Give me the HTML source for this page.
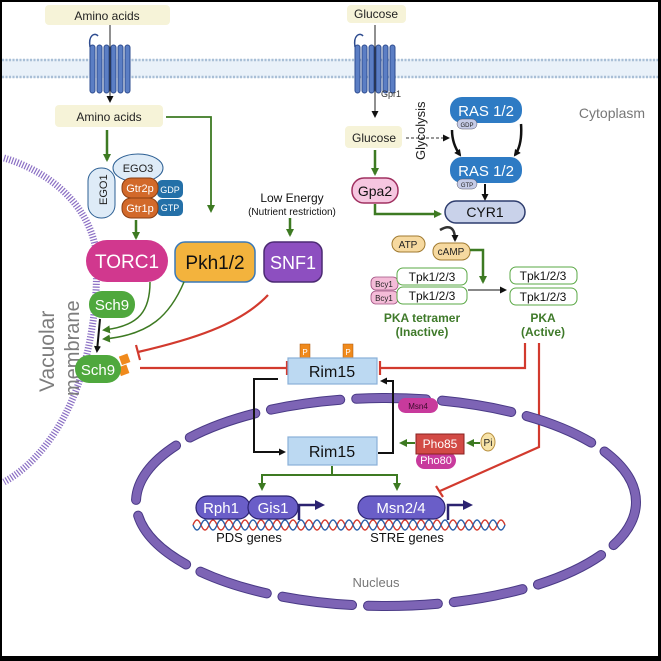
<!DOCTYPE html>
<html><head><meta charset="utf-8"><style>
html,body{margin:0;padding:0;background:#000;}
svg{display:block;font-family:"Liberation Sans",sans-serif;}
</style></head><body>
<svg width="661" height="661" viewBox="0 0 661 661" xmlns="http://www.w3.org/2000/svg">
<defs>
<marker id="ag" markerWidth="8" markerHeight="8" refX="6" refY="4" orient="auto" markerUnits="userSpaceOnUse"><path d="M0,0 L8,4 L0,8 z" fill="#3d7a22"/></marker>
<marker id="ab" markerWidth="7" markerHeight="7" refX="5" refY="3.5" orient="auto" markerUnits="userSpaceOnUse"><path d="M0,0 L7,3.5 L0,7 z" fill="#111"/></marker>
<marker id="an" markerWidth="10" markerHeight="10" refX="3" refY="5" orient="auto" markerUnits="userSpaceOnUse"><path d="M0,0 L10,5 L0,10 z" fill="#2b2270"/></marker>
</defs>
<rect x="2" y="2" width="656" height="654" fill="#fff"/>
<!-- plasma membrane -->
<rect x="2" y="59" width="656" height="19" fill="#e9f1f9"/>
<line x1="2" y1="60" x2="658" y2="60" stroke="#a9bfd6" stroke-width="2.5" stroke-dasharray="2 1.5"/>
<line x1="2" y1="77" x2="658" y2="77" stroke="#a9bfd6" stroke-width="2.5" stroke-dasharray="2 1.5"/>
<!-- receptors -->
<g fill="#5b7ec4" stroke="#2e4c8f" stroke-width="1">
<rect x="90" y="45" width="5" height="48" rx="2.5"/><rect x="97" y="45" width="5" height="48" rx="2.5"/><rect x="104" y="45" width="5" height="48" rx="2.5"/><rect x="111" y="45" width="5" height="48" rx="2.5"/><rect x="118" y="45" width="5" height="48" rx="2.5"/><rect x="125" y="45" width="5" height="48" rx="2.5"/>
<rect x="355" y="45" width="5" height="48" rx="2.5"/><rect x="362" y="45" width="5" height="48" rx="2.5"/><rect x="369" y="45" width="5" height="48" rx="2.5"/><rect x="376" y="45" width="5" height="48" rx="2.5"/><rect x="383" y="45" width="5" height="48" rx="2.5"/><rect x="390" y="45" width="5" height="48" rx="2.5"/>
</g>
<path d="M90,47 C88,35 95,32 98,36" fill="none" stroke="#2e4c8f" stroke-width="1.5"/>
<path d="M355,47 C353,35 360,32 363,36" fill="none" stroke="#2e4c8f" stroke-width="1.5"/>
<text x="381" y="97" font-size="9" fill="#333">Gpr1</text>
<!-- amino acids -->
<rect x="45" y="5" width="125" height="20" rx="4" fill="#f6f3d8"/>
<text x="107" y="20" font-size="12" text-anchor="middle" fill="#222">Amino acids</text>
<line x1="110" y1="25" x2="110" y2="101" stroke="#222" stroke-width="1" marker-end="url(#ab)"/>
<rect x="55" y="105" width="108" height="22" rx="4" fill="#f6f3d8"/>
<text x="109" y="121" font-size="12" text-anchor="middle" fill="#222">Amino acids</text>
<path d="M166,117 L211,117 L211,211" fill="none" stroke="#3d7a22" stroke-width="1.8" marker-end="url(#ag)"/>
<line x1="107" y1="130" x2="107" y2="160" stroke="#3d7a22" stroke-width="2.5" marker-end="url(#ag)"/>
<!-- vacuolar membrane -->
<path d="M4,158 C45,170 85,200 95,245 C100,290 92,345 78,385 C62,430 35,465 4,482" fill="none" stroke="#8b6fc4" stroke-width="7" stroke-dasharray="1.2 1.6"/>
<text transform="translate(54,392) rotate(-90)" font-size="21" fill="#7d7d7d">Vacuolar</text>
<text transform="translate(79,396) rotate(-90)" font-size="20" fill="#7d7d7d">membrane</text>
<!-- EGO complex -->
<rect x="88" y="168" width="27" height="50" rx="13" fill="#deebf7" stroke="#2c5f93" stroke-width="1"/>
<text transform="translate(107,205) rotate(-90)" font-size="11" fill="#222">EGO1</text>
<ellipse cx="138" cy="168" rx="25" ry="14" fill="#deebf7" stroke="#2c5f93" stroke-width="1"/>
<text x="138" y="172" font-size="11" text-anchor="middle" fill="#222">EGO3</text>
<rect x="157" y="180" width="26" height="18" rx="5" fill="#2470a8"/>
<text x="170" y="193" font-size="9" text-anchor="middle" fill="#fff">GDP</text>
<rect x="157" y="199" width="26" height="17" rx="5" fill="#2470a8"/>
<text x="170" y="211" font-size="9" text-anchor="middle" fill="#fff">GTP</text>
<rect x="122" y="178" width="36" height="20" rx="9" fill="#d2692a" stroke="#8a3e12" stroke-width="1"/>
<text x="140" y="192" font-size="11" text-anchor="middle" fill="#fff">Gtr2p</text>
<rect x="122" y="198" width="36" height="20" rx="9" fill="#d2692a" stroke="#8a3e12" stroke-width="1"/>
<text x="140" y="212" font-size="11" text-anchor="middle" fill="#fff">Gtr1p</text>
<line x1="136" y1="220" x2="136" y2="238" stroke="#3d7a22" stroke-width="2.5" marker-end="url(#ag)"/>
<!-- TORC1 Pkh SNF1 -->
<rect x="86" y="240" width="82" height="42" rx="21" fill="#d1388e"/>
<text x="127" y="268" font-size="19" text-anchor="middle" fill="#fff">TORC1</text>
<rect x="175" y="242" width="80" height="40" rx="10" fill="#f3b33d" stroke="#3a79b8" stroke-width="1.5"/>
<text x="215" y="269" font-size="19" text-anchor="middle" fill="#111">Pkh1/2</text>
<rect x="264" y="242" width="58" height="40" rx="10" fill="#8d4fc0" stroke="#4c2a73" stroke-width="1.5"/>
<text x="293" y="269" font-size="18" text-anchor="middle" fill="#fff">SNF1</text>
<text x="292" y="202" font-size="12" text-anchor="middle" fill="#111">Low Energy</text>
<text x="292" y="215" font-size="10" text-anchor="middle" fill="#111">(Nutrient restriction)</text>
<line x1="290" y1="218" x2="290" y2="235" stroke="#3d7a22" stroke-width="2.5" marker-end="url(#ag)"/>
<!-- Sch9 -->
<rect x="89" y="291" width="46" height="27" rx="13" fill="#4fa83d"/>
<text x="112" y="310" font-size="15" text-anchor="middle" fill="#fff">Sch9</text>
<path d="M150,282 C150,310 140,326 104,330" fill="none" stroke="#3d7a22" stroke-width="1.5" marker-end="url(#ag)"/>
<path d="M184,282 C170,315 150,335 104,339" fill="none" stroke="#3d7a22" stroke-width="1.5" marker-end="url(#ag)"/>
<line x1="100" y1="319" x2="97" y2="351" stroke="#111" stroke-width="2" marker-end="url(#ab)"/>
<rect x="120" y="355" width="9" height="9" fill="#f08a1c" transform="rotate(-20 124 359)"/>
<rect x="119" y="366" width="9" height="9" fill="#f08a1c" transform="rotate(-20 123 370)"/>
<rect x="75" y="355" width="46" height="28" rx="14" fill="#4fa83d"/>
<text x="98" y="375" font-size="15" text-anchor="middle" fill="#fff">Sch9</text>
<!-- red inhibitions -->
<path d="M268,295 C240,325 190,340 138,352" fill="none" stroke="#d23a2e" stroke-width="2.2"/>
<line x1="136" y1="345" x2="140" y2="360" stroke="#d23a2e" stroke-width="2.2"/>
<line x1="140" y1="368" x2="287" y2="368" stroke="#d23a2e" stroke-width="2.2"/>
<line x1="287" y1="361" x2="287" y2="375" stroke="#d23a2e" stroke-width="2.2"/>
<path d="M525,343 L525,368 L380,368" fill="none" stroke="#d23a2e" stroke-width="2.2"/>
<line x1="380" y1="361" x2="380" y2="375" stroke="#d23a2e" stroke-width="2.2"/>
<path d="M539,343 L539,447 L440,491" fill="none" stroke="#d23a2e" stroke-width="2.2"/>
<line x1="436" y1="486" x2="443" y2="497" stroke="#d23a2e" stroke-width="2.2"/>
<!-- nucleus -->
<ellipse cx="386" cy="502" rx="250" ry="104" fill="none" stroke="#4a3a86" stroke-width="10" stroke-dasharray="70 16" stroke-dashoffset="20" stroke-linecap="round"/>
<ellipse cx="386" cy="502" rx="250" ry="104" fill="none" stroke="#7d64b5" stroke-width="8" stroke-dasharray="70 16" stroke-dashoffset="20" stroke-linecap="round"/>
<text x="376" y="587" font-size="13" text-anchor="middle" fill="#777">Nucleus</text>
<!-- Rim15 -->
<rect x="300" y="344" width="10" height="14" fill="#f08a1c" stroke="#a8560c" stroke-width="0.5"/>
<text x="305" y="355" font-size="8" text-anchor="middle" fill="#fff">P</text>
<rect x="343" y="344" width="10" height="14" fill="#f08a1c" stroke="#a8560c" stroke-width="0.5"/>
<text x="348" y="355" font-size="8" text-anchor="middle" fill="#fff">P</text>
<rect x="288" y="358" width="89" height="26" fill="#bcd9f2" stroke="#8ab0d8" stroke-width="1.2"/>
<text x="332" y="377" font-size="16" text-anchor="middle" fill="#111">Rim15</text>
<rect x="288" y="437" width="89" height="28" fill="#bcd9f2" stroke="#8ab0d8" stroke-width="1.2"/>
<text x="332" y="457" font-size="16" text-anchor="middle" fill="#111">Rim15</text>
<path d="M278,379 L254,379 L254,452 L284,452" fill="none" stroke="#111" stroke-width="2" marker-end="url(#ab)"/>
<path d="M378,453 L393,453 L393,381 L382,381" fill="none" stroke="#111" stroke-width="2" marker-end="url(#ab)"/>
<rect x="398" y="398" width="40" height="15" rx="7.5" fill="#c83a9c"/>
<text x="418" y="409" font-size="8" text-anchor="middle" fill="#3a0a2a">Msn4</text>
<rect x="416" y="452" width="40" height="17" rx="8.5" fill="#c83a9c"/>
<text x="436" y="464" font-size="11" text-anchor="middle" fill="#fff">Pho80</text>
<rect x="416" y="434" width="48" height="20" fill="#d24a45" stroke="#8a2020" stroke-width="1"/>
<text x="440" y="448" font-size="12" text-anchor="middle" fill="#fff">Pho85</text>
<ellipse cx="488" cy="442" rx="7" ry="9" fill="#f7e3a8" stroke="#b89040" stroke-width="1"/>
<text x="488" y="446" font-size="10" text-anchor="middle" fill="#222">Pi</text>
<line x1="480" y1="443" x2="468" y2="443" stroke="#3d7a22" stroke-width="2" marker-end="url(#ag)"/>
<line x1="415" y1="443" x2="401" y2="443" stroke="#3d7a22" stroke-width="2" marker-end="url(#ag)"/>
<path d="M332,466 L332,475 L262,475 L262,488 M332,475 L397,475 L397,488" fill="none" stroke="#3d7a22" stroke-width="2"/>
<line x1="262" y1="480" x2="262" y2="489" stroke="#3d7a22" stroke-width="2" marker-end="url(#ag)"/>
<line x1="397" y1="480" x2="397" y2="489" stroke="#3d7a22" stroke-width="2" marker-end="url(#ag)"/>
<!-- DNA -->
<path d="M193,525 q4,-10 8,0 t8,0 t8,0 t8,0 t8,0 t8,0 t8,0 t8,0 t8,0 t8,0 t8,0 t8,0 t8,0 t8,0 t8,0 t8,0 t8,0 t8,0 t8,0 t8,0 t8,0 t8,0 t8,0 t8,0 t8,0 t8,0 t8,0 t8,0 t8,0 t8,0 t8,0 t8,0 t8,0 t8,0 t8,0 t8,0 t8,0 t8,0 t8,0" fill="none" stroke="#d23a2e" stroke-width="1.4"/>
<path d="M193,525 q4,10 8,0 t8,0 t8,0 t8,0 t8,0 t8,0 t8,0 t8,0 t8,0 t8,0 t8,0 t8,0 t8,0 t8,0 t8,0 t8,0 t8,0 t8,0 t8,0 t8,0 t8,0 t8,0 t8,0 t8,0 t8,0 t8,0 t8,0 t8,0 t8,0 t8,0 t8,0 t8,0 t8,0 t8,0 t8,0 t8,0 t8,0 t8,0 t8,0" fill="none" stroke="#2b5fa8" stroke-width="1.4"/>
<rect x="196" y="496" width="54" height="23" rx="11.5" fill="#6a5ec8" stroke="#2b2270" stroke-width="1.2"/>
<text x="221" y="513" font-size="15" text-anchor="middle" fill="#fff">Rph1</text>
<rect x="248" y="496" width="50" height="23" rx="11.5" fill="#6a5ec8" stroke="#2b2270" stroke-width="1.2"/>
<text x="273" y="513" font-size="15" text-anchor="middle" fill="#fff">Gis1</text>
<path d="M299,520 L299,505 L318,505" fill="none" stroke="#2b2270" stroke-width="2.5" marker-end="url(#an)"/>
<rect x="358" y="496" width="87" height="23" rx="11.5" fill="#6a5ec8" stroke="#2b2270" stroke-width="1.2"/>
<text x="401" y="513" font-size="15" text-anchor="middle" fill="#fff">Msn2/4</text>
<path d="M448,520 L448,505 L466,505" fill="none" stroke="#2b2270" stroke-width="2.5" marker-end="url(#an)"/>
<text x="249" y="542" font-size="13" text-anchor="middle" fill="#111">PDS genes</text>
<text x="407" y="542" font-size="13" text-anchor="middle" fill="#111">STRE genes</text>
<!-- glucose side -->
<rect x="347" y="5" width="59" height="18" rx="4" fill="#f6f3d8"/>
<text x="376" y="18" font-size="12" text-anchor="middle" fill="#222">Glucose</text>
<line x1="375" y1="25" x2="375" y2="116" stroke="#222" stroke-width="1" marker-end="url(#ab)"/>
<rect x="345" y="126" width="57" height="22" rx="4" fill="#f6f3d8"/>
<text x="374" y="142" font-size="12" text-anchor="middle" fill="#222">Glucose</text>
<line x1="406" y1="138" x2="448" y2="138" stroke="#333" stroke-width="1" stroke-dasharray="3 2" marker-end="url(#ab)"/>
<text transform="translate(425,160) rotate(-90)" font-size="13" fill="#222">Glycolysis</text>
<rect x="450" y="97" width="72" height="26" rx="12" fill="#2e7bc4"/>
<text x="486" y="116" font-size="15" text-anchor="middle" fill="#fff">RAS 1/2</text>
<rect x="457" y="119" width="20" height="10" rx="5" fill="#c6cce8" stroke="#556" stroke-width="0.5"/>
<text x="467" y="127" font-size="6" text-anchor="middle" fill="#222">GDP</text>
<rect x="450" y="157" width="72" height="26" rx="12" fill="#2e7bc4"/>
<text x="486" y="176" font-size="15" text-anchor="middle" fill="#fff">RAS 1/2</text>
<rect x="457" y="179" width="20" height="10" rx="5" fill="#c6cce8" stroke="#556" stroke-width="0.5"/>
<text x="467" y="187" font-size="6" text-anchor="middle" fill="#222">GTP</text>
<path d="M452,130 C452,140 455,148 460,155" fill="none" stroke="#111" stroke-width="2.5" marker-end="url(#ab)"/>
<path d="M521,124 C522,138 520,148 515,155" fill="none" stroke="#111" stroke-width="2.5" marker-end="url(#ab)"/>
<line x1="485" y1="184" x2="485" y2="199" stroke="#111" stroke-width="2" marker-end="url(#ab)"/>
<rect x="445" y="201" width="80" height="22" rx="11" fill="#c9d2ea" stroke="#2e3d6e" stroke-width="1.5"/>
<text x="485" y="217" font-size="14" text-anchor="middle" fill="#111">CYR1</text>
<line x1="375" y1="150" x2="375" y2="174" stroke="#3d7a22" stroke-width="2.5" marker-end="url(#ag)"/>
<rect x="352" y="178" width="46" height="25" rx="12" fill="#f6c6e0" stroke="#a03060" stroke-width="1.5"/>
<text x="375" y="196" font-size="14" text-anchor="middle" fill="#111">Gpa2</text>
<path d="M375,204 L375,214 L440,214" fill="none" stroke="#3d7a22" stroke-width="2.5" marker-end="url(#ag)"/>
<path d="M440,230 C450,224 455,228 455,240" fill="none" stroke="#333" stroke-width="2.5" marker-end="url(#ab)"/>
<rect x="392" y="236" width="33" height="16" rx="8" fill="#f6d9a0" stroke="#a07a30" stroke-width="1"/>
<text x="408" y="248" font-size="10" text-anchor="middle" fill="#222">ATP</text>
<rect x="433" y="243" width="37" height="17" rx="8" fill="#f6d9a0" stroke="#a07a30" stroke-width="1"/>
<text x="451" y="255" font-size="10" text-anchor="middle" fill="#222">cAMP</text>
<path d="M470,250 L483,250 L483,282" fill="none" stroke="#3d7a22" stroke-width="2.5" marker-end="url(#ag)"/>
<rect x="371" y="277" width="27" height="13" rx="5" fill="#f4bcd8" stroke="#a05080" stroke-width="0.8"/>
<text x="384" y="287" font-size="8" text-anchor="middle" fill="#222">Bcy1</text>
<rect x="371" y="291" width="27" height="13" rx="5" fill="#f4bcd8" stroke="#a05080" stroke-width="0.8"/>
<text x="384" y="301" font-size="8" text-anchor="middle" fill="#222">Bcy1</text>
<rect x="397" y="268" width="70" height="17" rx="6" fill="#fff" stroke="#5aa845" stroke-width="1"/>
<text x="432" y="281" font-size="12" text-anchor="middle" fill="#111">Tpk1/2/3</text>
<rect x="397" y="287" width="70" height="17" rx="6" fill="#fff" stroke="#5aa845" stroke-width="1"/>
<text x="432" y="300" font-size="12" text-anchor="middle" fill="#111">Tpk1/2/3</text>
<line x1="468" y1="290" x2="505" y2="290" stroke="#111" stroke-width="1" marker-end="url(#ab)"/>
<rect x="510" y="267" width="67" height="17" rx="6" fill="#fff" stroke="#5aa845" stroke-width="1"/>
<text x="543" y="280" font-size="12" text-anchor="middle" fill="#111">Tpk1/2/3</text>
<rect x="510" y="288" width="67" height="17" rx="6" fill="#fff" stroke="#5aa845" stroke-width="1"/>
<text x="543" y="301" font-size="12" text-anchor="middle" fill="#111">Tpk1/2/3</text>
<text x="422" y="322" font-size="12" font-weight="bold" text-anchor="middle" fill="#3f7a2a">PKA tetramer</text>
<text x="422" y="336" font-size="12" font-weight="bold" text-anchor="middle" fill="#3f7a2a">(Inactive)</text>
<text x="543" y="322" font-size="12" font-weight="bold" text-anchor="middle" fill="#3f7a2a">PKA</text>
<text x="543" y="336" font-size="12" font-weight="bold" text-anchor="middle" fill="#3f7a2a">(Active)</text>
<text x="612" y="118" font-size="14" text-anchor="middle" fill="#777">Cytoplasm</text>
</svg>
</body></html>
